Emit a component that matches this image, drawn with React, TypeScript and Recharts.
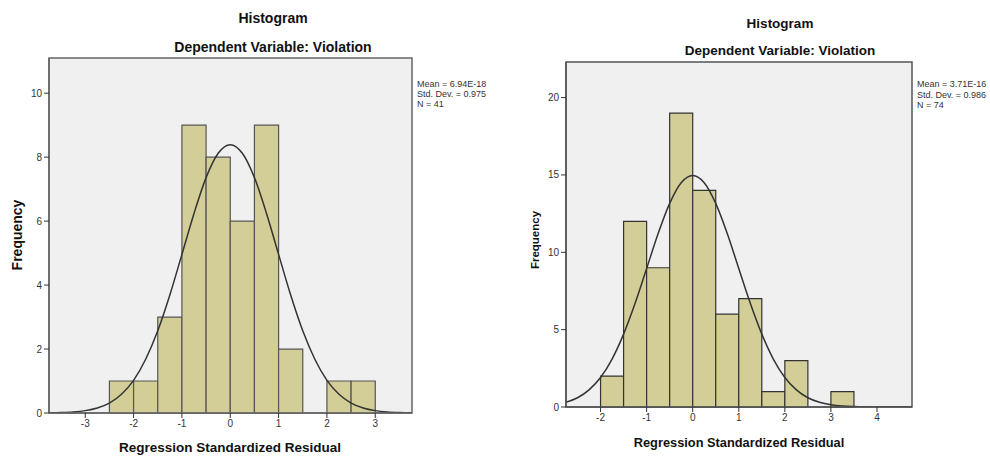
import React from "react";
import {
  ComposedChart, Line, XAxis, YAxis, ReferenceArea,
} from "recharts";

// left histogram (N = 41)
const leftBinStart = [-2.5, -2, -1.5, -1, -0.5, 0, 0.5, 1, 1.5, 2, 2.5];
const leftCounts = [1, 1, 3, 9, 8, 6, 9, 2, 0, 1, 1];
const leftCurveX = [-3.75, -3.5, -3.25, -3, -2.75, -2.5, -2.25, -2, -1.75, -1.5, -1.25, -1, -0.75, -0.5, -0.25, 0,
  0.25, 0.5, 0.75, 1, 1.25, 1.5, 1.75, 2, 2.25, 2.5, 2.75, 3, 3.25, 3.5, 3.75];
const leftCurveY = [0.005, 0.013, 0.032, 0.074, 0.157, 0.31, 0.585, 1.02, 1.68, 2.57, 3.69, 4.96, 6.24, 7.36, 8.12, 8.39,
  8.12, 7.36, 6.24, 4.96, 3.69, 2.57, 1.68, 1.02, 0.585, 0.31, 0.157, 0.074, 0.032, 0.013, 0.005];
const leftXTicks = [-3, -2, -1, 0, 1, 2, 3];
const leftYTicks = [0, 2, 4, 6, 8, 10];
const leftStats = ["Mean = 6.94E-18", "Std. Dev. = 0.975", "N = 41"];

// right histogram (N = 74)
const rightBinStart = [-2, -1.5, -1, -0.5, 0, 0.5, 1, 1.5, 2, 2.5, 3];
const rightCounts = [2, 12, 9, 19, 14, 6, 7, 1, 3, 0, 1];
const rightCurveX = [-2.75, -2.5, -2.25, -2, -1.75, -1.5, -1.25, -1, -0.75, -0.5, -0.25, 0,
  0.25, 0.5, 0.75, 1, 1.25, 1.5, 1.75, 2, 2.25, 2.5, 2.75, 3, 3.25, 3.5, 3.75, 4, 4.25, 4.5, 4.75];
const rightCurveY = [0.31, 0.6, 1.11, 1.91, 3.1, 4.71, 6.7, 8.95, 11.21, 13.16, 14.5, 14.97,
  14.5, 13.16, 11.21, 8.95, 6.7, 4.71, 3.1, 1.91, 1.11, 0.6, 0.31, 0.146, 0.065, 0.028, 0.011, 0.004, 0.001, 0, 0];
const rightXTicks = [-2, -1, 0, 1, 2, 3, 4];
const rightYTicks = [0, 5, 10, 15, 20];
const rightStats = ["Mean = 3.71E-16", "Std. Dev. = 0.986", "N = 74"];

const binWidth = 0.5;
const font = "Arial, 'Liberation Sans', sans-serif";

interface HistProps {
  binStart: number[];
  counts: number[];
  curveX: number[];
  curveY: number[];
  xTicks: number[];
  yTicks: number[];
  xDomain: [number, number];
  yMax: number;
  width: number;
  height: number;
  yAxisWidth: number;
  margin: { top: number; right: number; bottom: number; left: number };
  frame: string;
  barStroke: string;
}

function Hist(p: HistProps) {
  const curve = p.curveX.map((x, i) => ({ x, y: p.curveY[i] }));
  return (
    <ComposedChart width={p.width} height={p.height} data={curve} margin={p.margin}>
      <ReferenceArea
        x1={p.xDomain[0]} x2={p.xDomain[1]} y1={0} y2={p.yMax}
        fill="#f0f0f0" fillOpacity={1} stroke={p.frame} strokeWidth={1.5}
      />
      {p.binStart.map((b, i) =>
        p.counts[i] > 0 ? (
          <ReferenceArea
            key={i}
            x1={b} x2={b + binWidth} y1={0} y2={p.counts[i]}
            fill="#d3ce97" fillOpacity={1} stroke={p.barStroke} strokeWidth={1.2}
          />
        ) : null
      )}
      <XAxis
        dataKey="x" type="number" domain={p.xDomain} ticks={p.xTicks} allowDataOverflow
        height={30} tickSize={5} axisLine={{ stroke: p.frame, strokeWidth: 1.5 }}
        tickLine={{ stroke: "#333" }} tick={{ fontSize: 10, fill: "#333", fontFamily: font }}
      />
      <YAxis
        type="number" domain={[0, p.yMax]} ticks={p.yTicks} allowDataOverflow
        width={p.yAxisWidth} tickSize={5} axisLine={{ stroke: p.frame, strokeWidth: 1.5 }}
        tickLine={{ stroke: "#333" }} tick={{ fontSize: 10, fill: "#333", fontFamily: font }}
      />
      <Line
        type="monotone" dataKey="y" stroke="#333" strokeWidth={1.5}
        dot={false} activeDot={false} isAnimationActive={false}
      />
    </ComposedChart>
  );
}

const txt = (x: number, y: number, size: number, bold = true): React.CSSProperties => ({
  position: "absolute", left: x, top: y, transform: "translate(-50%, -50%)",
  fontSize: size, fontWeight: bold ? "bold" : "normal", fontFamily: font, color: "#111", whiteSpace: "nowrap",
});

export default function App() {
  return (
    <div style={{ position: "absolute", left: 0, top: 0, width: 990, height: 457, background: "#fff", overflow: "hidden" }}>
      <div style={{ position: "absolute", left: 0, top: 0 }}>
        <Hist
          binStart={leftBinStart} counts={leftCounts} curveX={leftCurveX} curveY={leftCurveY}
          xTicks={leftXTicks} yTicks={leftYTicks} xDomain={[-3.75, 3.76]} yMax={11.1}
          width={495} height={457} yAxisWidth={49}
          margin={{ top: 58, right: 83, bottom: 14, left: 0 }}
          frame="#666" barStroke="#555"
        />
      </div>
      <div style={{ position: "absolute", left: 500, top: 0 }}>
        <Hist
          binStart={rightBinStart} counts={rightCounts} curveX={rightCurveX} curveY={rightCurveY}
          xTicks={rightXTicks} yTicks={rightYTicks} xDomain={[-2.75, 4.76]} yMax={22.3}
          width={490} height={457} yAxisWidth={66}
          margin={{ top: 62, right: 78, bottom: 20, left: 0 }}
          frame="#555" barStroke="#333"
        />
      </div>

      <div style={txt(273, 18, 14)}>Histogram</div>
      <div style={txt(273, 47, 14)}>Dependent Variable: Violation</div>
      <div style={txt(230, 447, 13.5)}>Regression Standardized Residual</div>
      <div style={{ ...txt(17, 235, 14), transform: "translate(-50%, -50%) rotate(-90deg)" }}>Frequency</div>
      <div style={{ position: "absolute", left: 417, top: 79, fontSize: 9, lineHeight: "10px", fontFamily: font, color: "#333" }}>
        {leftStats.map((s) => <div key={s}>{s}</div>)}
      </div>

      <div style={txt(780, 23, 13.5)}>Histogram</div>
      <div style={txt(780, 50, 13.5)}>Dependent Variable: Violation</div>
      <div style={txt(739, 442, 12.8)}>Regression Standardized Residual</div>
      <div style={{ ...txt(535, 240, 11.5), transform: "translate(-50%, -50%) rotate(-90deg)" }}>Frequency</div>
      <div style={{ position: "absolute", left: 917, top: 79, fontSize: 9, lineHeight: "10.7px", fontFamily: font, color: "#333" }}>
        {rightStats.map((s) => <div key={s}>{s}</div>)}
      </div>
    </div>
  );
}
